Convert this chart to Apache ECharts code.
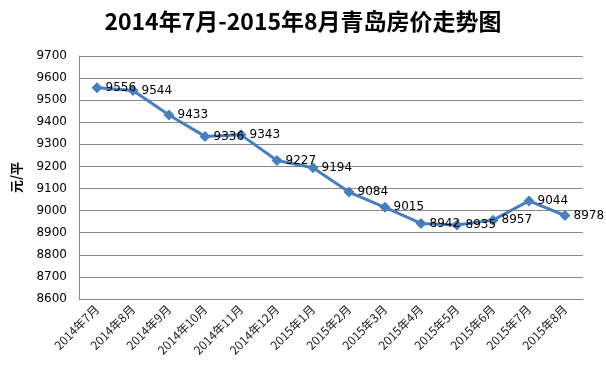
<!DOCTYPE html>
<html>
<head>
<meta charset="utf-8">
<script src="https://cdn.jsdelivr.net/npm/echarts@6/dist/echarts.min.js"></script>
<style>
html, body { margin: 0; padding: 0; background: #fff; }
#chart-container { width: 606px; height: 378px; }
</style>
</head>
<body>
<div id="chart-container"></div>
<script>
var months = ["2014年7月", "2014年8月", "2014年9月", "2014年10月", "2014年11月", "2014年12月",
    "2015年1月", "2015年2月", "2015年3月", "2015年4月", "2015年5月", "2015年6月", "2015年7月", "2015年8月"];
var prices = [9556, 9544, 9433, 9336, 9343, 9227, 9194, 9084, 9015, 8942, 8935, 8957, 9044, 8978];
var yMin = 8600;
var yMax = 9700;
var yStep = 100;

var dom = document.getElementById("chart-container");
var myChart = echarts.init(dom, null, { renderer: "canvas" });
var font = "'Noto Sans CJK SC', 'DejaVu Sans', sans-serif";

var option = {
    animation: false,
    title: {
        text: "2014年7月-2015年8月青岛房价走势图",
        left: "center",
        top: 5,
        textStyle: { fontSize: 23, fontWeight: "bold", color: "#000", fontFamily: font }
    },
    grid: { left: 79, right: 23, top: 56, bottom: 79 },
    xAxis: {
        type: "category",
        data: months,
        boundaryGap: true,
        axisLine: { lineStyle: { color: "#888" } },
        axisTick: { show: false },
        axisLabel: { rotate: 45, fontSize: 12, color: "#222", fontFamily: font, interval: 0, margin: 8 }
    },
    yAxis: {
        type: "value",
        min: yMin,
        max: yMax,
        interval: yStep,
        name: "元/平",
        nameLocation: "middle",
        nameGap: 56,
        nameRotate: 90,
        nameTextStyle: { fontSize: 13, fontWeight: "bold", color: "#000", fontFamily: font },
        axisLine: { show: true, lineStyle: { color: "#888" } },
        axisTick: { show: false },
        splitLine: { lineStyle: { color: "#888" } },
        axisLabel: {
            fontSize: 12, color: "#000", fontFamily: "'DejaVu Sans', sans-serif", margin: 12,
            formatter: function (v) { return String(v); }
        }
    },
    series: [{
        type: "line",
        data: prices,
        symbol: "diamond",
        symbolSize: 11,
        lineStyle: { color: "#4a7ebb", width: 3 },
        itemStyle: { color: "#4a7ebb" },
        label: {
            show: true,
            position: "right",
            distance: 3,
            fontSize: 12,
            color: "#000",
            fontFamily: "'DejaVu Sans', sans-serif"
        }
    }]
};

myChart.setOption(option);
window.addEventListener("resize", myChart.resize);
</script>
</body>
</html>
